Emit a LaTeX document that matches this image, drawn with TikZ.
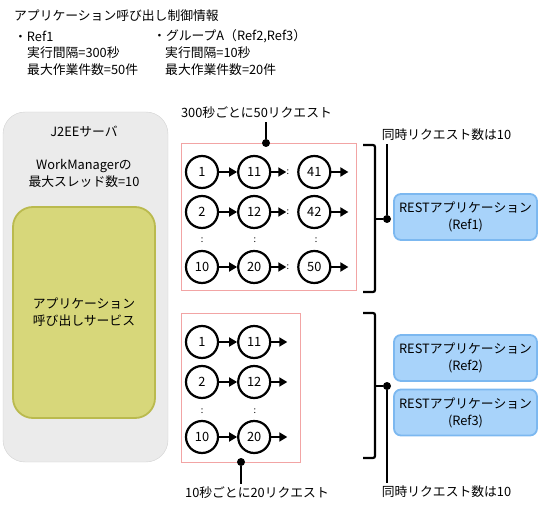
\documentclass[tikz,border=0pt]{standalone}
\usepackage{fontspec}
\setmainfont{Noto Sans CJK JP}
\usepackage{tikz}
\usetikzlibrary{arrows.meta,positioning}
\definecolor{SrvGray}{HTML}{EBEBEB}
\definecolor{SrvLine}{HTML}{D2D2D2}
\definecolor{SvcGreen}{HTML}{D7D77A}
\definecolor{SvcLine}{HTML}{BABA4E}
\definecolor{RestBlue}{HTML}{A8D3FA}
\definecolor{RestLine}{HTML}{7CB8F0}
\definecolor{ReqPink}{HTML}{F2A4A4}

\begin{document}
\begin{tikzpicture}[
  x=1pt, y=-1pt,
  font=\fontsize{12.8}{17}\selectfont,
  txt/.style={inner sep=0pt, anchor=west},
  server/.style={rectangle, draw=SrvLine, fill=SrvGray, rounded corners=22pt,
    minimum width=165pt, minimum height=350pt},
  service/.style={rectangle, draw=SvcLine, fill=SvcGreen, line width=1.8pt, rounded corners=20pt,
    minimum width=142pt, minimum height=211pt, align=center},
  reqbox/.style={rectangle, draw=ReqPink, line width=0.9pt},
  req/.style={circle, draw, line width=2.2pt, minimum size=32pt, inner sep=0pt},
  rest/.style={rectangle, draw=RestLine, fill=RestBlue, line width=1.8pt, rounded corners=7pt,
    minimum width=143pt, minimum height=46pt, align=center},
  arrow/.style={-{Triangle[length=8pt,width=9pt]}, line width=1.8pt},
  vdots/.style={inner sep=0pt, font=\fontsize{9}{9}\selectfont},
  pin/.style={line width=1.8pt},
  brace/.style={line width=2.2pt, rounded corners=2pt},
  pindot/.style={circle, fill, inner sep=0pt, minimum size=8pt}
]
\useasboundingbox (0,0) rectangle (542,511);

\node (title) [txt] at (14,16) {アプリケーション呼び出し制御情報};
\node (ref1) [txt] at (14,36) {・Ref1};
\node (ref1int) [txt] at (27,53) {実行間隔=300秒};
\node (ref1max) [txt] at (27,70) {最大作業件数=50件};
\node (grpa) [txt] at (153,36) {・グループA（Ref2,Ref3）};
\node (grpint) [txt] at (165,53) {実行間隔=10秒};
\node (grpmax) [txt] at (165,70) {最大作業件数=20件};

\node (server) [server] at (85.5,287) {};
\node (srvname) at (84,132) {J2EEサーバ};
\node (wm) [align=center] at (84,173) {WorkManagerの\\最大スレッド数=10};
\node (service) [service] at (84,312.5) {アプリケーション\\呼び出しサービス};

\node (upreq) [reqbox, minimum width=175pt, minimum height=147pt] at (268.5,216.5) {};
\node (lowreq) [reqbox, minimum width=119pt, minimum height=149pt] at (240.5,387.5) {};

\node (r1) [req] at (202,172) {1};
\node (r11) [req, right=18pt of r1] {11};
\node (c1) [vdots, right=15pt of r11] {:};
\node (r41) [req, right=8pt of c1] {41};
\coordinate [right=17pt of r41] (e1);
\node (r2) [req] at (202,212) {2};
\node (r12) [req, right=18pt of r2] {12};
\node (c2) [vdots, right=15pt of r12] {:};
\node (r42) [req, right=8pt of c2] {42};
\coordinate [right=17pt of r42] (e2);
\node (r10) [req] at (202,267) {10};
\node (r20) [req, right=18pt of r10] {20};
\node (c10) [vdots, right=15pt of r20] {:};
\node (r50) [req, right=8pt of c10] {50};
\coordinate [right=17pt of r50] (e10);
\node (d1) [vdots] at (202,240) {:};
\node (d11) [vdots] at (255,240) {:};
\node (d41) [vdots] at (316,240) {:};

\draw[arrow] (r1) -- (r11);
\draw[arrow] (r11) -- (c1);
\draw[arrow] (r41) -- (e1);
\draw[arrow] (r2) -- (r12);
\draw[arrow] (r12) -- (c2);
\draw[arrow] (r42) -- (e2);
\draw[arrow] (r10) -- (r20);
\draw[arrow] (r20) -- (c10);
\draw[arrow] (r50) -- (e10);

\node (l1) [req] at (202,342) {1};
\node (l11) [req, right=18pt of l1] {11};
\coordinate [right=16pt of l11] (f1);
\node (l2) [req] at (202,382) {2};
\node (l12) [req, right=18pt of l2] {12};
\coordinate [right=16pt of l12] (f2);
\node (l10) [req] at (202,437) {10};
\node (l20) [req, right=18pt of l10] {20};
\coordinate [right=16pt of l20] (f10);
\node (m1) [vdots] at (202,411) {:};
\node (m11) [vdots] at (255,411) {:};

\draw[arrow] (l1) -- (l11);
\draw[arrow] (l11) -- (f1);
\draw[arrow] (l2) -- (l12);
\draw[arrow] (l12) -- (f2);
\draw[arrow] (l10) -- (l20);
\draw[arrow] (l20) -- (f10);

\node (uplab) at (256.5,113) {300秒ごとに50リクエスト};
\node (updot) [pindot] at (266,143) {};
\draw[pin] (updot) -- (updot |- uplab.south);
\node (lowlab) at (257,493) {10秒ごとに20リクエスト};
\node (lowdot) [pindot] at (241,462) {};
\draw[pin] (lowdot) -- (lowdot |- lowlab.north);

\node (rest1) [rest] at (465.5,217) {RESTアプリケーション\\(Ref1)};
\node (rest2) [rest] at (465.5,358) {RESTアプリケーション\\(Ref2)};
\node (rest3) [rest] at (465.5,412.5) {RESTアプリケーション\\(Ref3)};

\node (upcon) at (446.5,135) {同時リクエスト数は10};
\node (upcdot) [pindot] at (387,219) {};
\draw[brace] (363,145) -- (375,145) -- (375,292) -- (363,292);
\draw[brace] (375,219) -- (upcdot);
\draw[pin] (upcdot) -- (upcdot |- upcon.south);
\node (lowcon) at (446.5,492) {同時リクエスト数は10};
\node (lowcdot) [pindot] at (387,386) {};
\draw[brace] (363,313) -- (375,313) -- (375,458) -- (363,458);
\draw[brace] (375,386) -- (lowcdot);
\draw[pin] (lowcdot) -- (lowcdot |- lowcon.north);
\end{tikzpicture}
\end{document}
